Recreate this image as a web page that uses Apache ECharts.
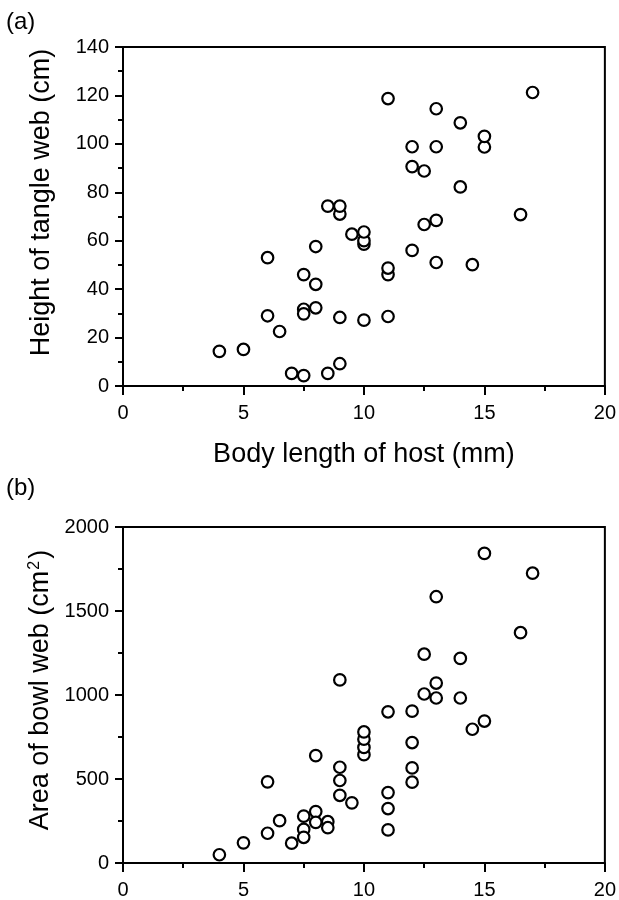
<!DOCTYPE html>
<html>
<head>
<meta charset="utf-8">
<script src="https://cdn.jsdelivr.net/npm/echarts@6/dist/echarts.min.js"></script>
<style>
    html, body {margin: 0; padding: 0; background: #fff;}
    #main {width: 619px; height: 900px;}
</style>
</head>
<body>
<div id="main"></div>
<script>
// (a) tangle web
var tangleLength = [4, 5, 6, 6, 6.5, 7, 7.5, 7.5, 7.5, 7.5, 8, 8, 8, 8.5, 8.5, 9, 9, 9, 9, 9.5,
    10, 10, 10, 10, 11, 11, 11, 11, 12, 12, 12, 12.5, 12.5, 13, 13, 13, 13, 14, 14, 14.5, 15, 15, 16.5, 17];
var tangleHeight = [14.3, 15.1, 53, 29, 22.5, 5.2, 4.3, 46, 31.7, 29.8, 57.6, 42, 32.3, 74.3, 5.2, 71, 74.3, 28.3, 9.2, 62.7,
    58.6, 60, 63.6, 27.2, 118.7, 46, 48.7, 28.7, 98.8, 90.6, 56, 88.8, 66.7, 114.5, 98.8, 68.4, 51, 108.7, 82.2, 50.1, 98.7, 103.1, 70.8, 121.2];

// (b) bowl web
var bowlLength = [4, 5, 6, 6, 6.5, 7, 7.5, 7.5, 7.5, 8, 8, 8, 8.5, 8.5, 9, 9, 9, 9, 9.5,
    10, 10, 10, 10, 11, 11, 11, 11, 12, 12, 12, 12, 12.5, 12.5, 13, 13, 13, 14, 14, 14.5, 15, 15, 16.5, 17];
var bowlArea = [49, 120, 483, 177, 252, 118, 279, 200, 153, 639, 306, 242, 246, 210, 1090, 570, 491, 403, 358,
    645, 688, 737, 780, 900, 419, 324, 197, 904, 717, 566, 481, 1243, 1006, 1585, 1071, 982, 1218, 982, 796, 1843, 845, 1371, 1725];

var xTicks = [0, 5, 10, 15, 20];
var tangleTicks = [0, 20, 40, 60, 80, 100, 120, 140];
var bowlTicks = [0, 500, 1000, 1500, 2000];

var FONT = 'Liberation Sans, Arial, sans-serif';

function pairs(xs, ys) {
    var out = [];
    for (var i = 0; i < xs.length; i++) {
        out.push([xs[i], ys[i]]);
    }
    return out;
}

function plain(v) {
    return String(v);
}

function xAxisOpt(idx) {
    return {
        type: 'value',
        gridIndex: idx,
        min: xTicks[0],
        max: xTicks[xTicks.length - 1],
        interval: xTicks[1] - xTicks[0],
        name: idx === 0 ? 'Body length of host (mm)' : '',
        nameLocation: 'middle',
        nameGap: 55,
        nameTextStyle: {fontFamily: FONT, fontSize: 27, color: '#000'},
        axisLine: {lineStyle: {color: '#000', width: 2}},
        axisTick: {length: 9, lineStyle: {color: '#000', width: 2}},
        minorTick: {show: true, splitNumber: 2, length: 5, lineStyle: {color: '#000', width: 2}},
        splitLine: {show: false},
        axisLabel: {fontFamily: FONT, fontSize: 20, color: '#000', margin: 17, formatter: plain}
    };
}

function yAxisOpt(idx, ticks, name, pad) {
    return {
        type: 'value',
        gridIndex: idx,
        min: ticks[0],
        max: ticks[ticks.length - 1],
        interval: ticks[1] - ticks[0],
        name: name,
        nameLocation: 'middle',
        nameGap: 68,
        nameTextStyle: {
            fontFamily: FONT, fontSize: 27, color: '#000',
            padding: [0, 0, 0, pad],
            rich: {sup: {fontFamily: FONT, fontSize: 16, color: '#000', padding: [0, 2, 12, 1]}}
        },
        axisLine: {lineStyle: {color: '#000', width: 2}},
        axisTick: {length: 8, lineStyle: {color: '#000', width: 2}},
        minorTick: {show: true, splitNumber: 2, length: 5, lineStyle: {color: '#000', width: 2}},
        splitLine: {show: false},
        axisLabel: {fontFamily: FONT, fontSize: 20, color: '#000', margin: 14, formatter: plain}
    };
}

function scatterOpt(idx, data) {
    return {
        type: 'scatter',
        xAxisIndex: idx,
        yAxisIndex: idx,
        data: data,
        symbol: 'circle',
        symbolSize: 11.5,
        itemStyle: {color: '#fff', borderColor: '#000', borderWidth: 2.2, opacity: 1},
        emphasis: {disabled: true}
    };
}

var chart = echarts.init(document.getElementById('main'), null, {renderer: 'canvas'});
chart.setOption({
    backgroundColor: '#fff',
    animation: false,
    grid: [
        {left: 123, right: 13, top: 47, height: 339, show: true, borderColor: '#000', borderWidth: 2, backgroundColor: 'transparent'},
        {left: 123, right: 13, top: 527, height: 340, show: true, borderColor: '#000', borderWidth: 2, backgroundColor: 'transparent'}
    ],
    xAxis: [xAxisOpt(0), xAxisOpt(1)],
    yAxis: [
        yAxisOpt(0, tangleTicks, 'Height of tangle web (cm)', 28),
        yAxisOpt(1, bowlTicks, 'Area of bowl web (cm{sup|2})', 10)
    ],
    graphic: [
        {type: 'text', left: 6, top: 10, style: {text: '(a)', font: '24px ' + FONT, fill: '#000'}},
        {type: 'text', left: 6, top: 476, style: {text: '(b)', font: '24px ' + FONT, fill: '#000'}}
    ],
    series: [
        scatterOpt(0, pairs(tangleLength, tangleHeight)),
        scatterOpt(1, pairs(bowlLength, bowlArea))
    ]
});
</script>
</body>
</html>
